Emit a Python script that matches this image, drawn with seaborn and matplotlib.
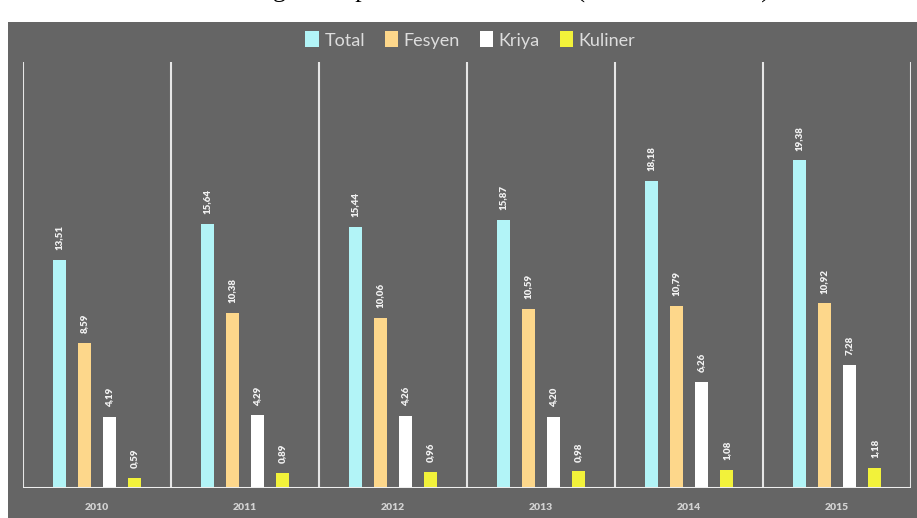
import matplotlib
matplotlib.use("Agg")
import matplotlib.pyplot as plt
import seaborn as sns
import pandas as pd
from matplotlib.patches import Rectangle, Patch

# ---- data ----
years = ["2010", "2011", "2012", "2013", "2014", "2015"]
series = ["Total", "Fesyen", "Kriya", "Kuliner"]
total = [13.51, 15.64, 15.44, 15.87, 18.18, 19.38]
fesyen = [8.59, 10.38, 10.06, 10.59, 10.79, 10.92]
kriya = [4.19, 4.29, 4.26, 4.20, 6.26, 7.28]
kuliner = [0.59, 0.89, 0.96, 0.98, 1.08, 1.18]
caption = "Perkembangan Ekspor Ekonomi Kreatif (Miliar US Dollar)"

colors = {"Total": "#b2f4f7", "Fesyen": "#fdd78b", "Kriya": "#ffffff", "Kuliner": "#f2f23a"}

rows = []
for name, vals in zip(series, [total, fesyen, kriya, kuliner]):
    for y, v in zip(years, vals):
        rows.append({"Tahun": y, "Sektor": name, "Nilai": v})
df = pd.DataFrame(rows)

sns.set_theme(style="white")
plt.rcParams["font.family"] = ["Lato", "DejaVu Sans"]

W, H = 917, 518
fig = plt.figure(figsize=(W / 100, H / 100), dpi=100, facecolor="white")

# dark panel behind the chart
fig.patches.append(Rectangle((8 / W, 0), 1, (H - 22) / H, transform=fig.transFigure,
                             facecolor="#656565", edgecolor="none", zorder=-10))

ax = fig.add_axes([23 / W, (H - 488) / H, (911 - 23) / W, (488 - 62) / H])
ax.set_facecolor("none")
ax.set_zorder(1)

sns.barplot(data=df, x="Tahun", y="Nilai", hue="Sektor", hue_order=series,
            palette=colors, saturation=1, width=0.68, gap=0.48, legend=False,
            edgecolor="none", linewidth=0, ax=ax)

for cont in ax.containers:
    labels = [f"{b.get_height():.2f}".replace(".", ",") for b in cont]
    ax.bar_label(cont, labels=labels, rotation=90, padding=7, fontsize=7,
                 fontweight="heavy", color="#f2f2f2")

ax.set_xlim(-0.5, 5.5)
ax.set_ylim(0, 25.2)
for s in ax.spines.values():
    s.set_visible(False)
ax.set_yticks([])
ax.set_xlabel("")
ax.set_ylabel("")
ax.tick_params(axis="x", length=0, pad=11, labelsize=7.5, labelcolor="#d2d2d2")
for t in ax.get_xticklabels():
    t.set_fontweight("heavy")

for i in range(7):
    ax.axvline(i - 0.5, color="#e6e6e6", lw=1.5, zorder=0.5)
ax.axhline(0, color="#eeeeee", lw=2.2, zorder=3)

handles = [Patch(facecolor=colors[s], edgecolor="none", label=s) for s in series]
fig.legend(handles=handles, loc="center", bbox_to_anchor=(0.513, 0.923), ncol=4,
           frameon=False, labelcolor="#dddddd", handlelength=0.75,
           handleheight=1.0, handletextpad=0.3, columnspacing=1.1,
           prop={"size": 13})

fig.text(0.505, 1.0 + 2 / H, caption, ha="center", va="baseline", fontsize=18.5,
         family="Liberation Serif", color="black")

fig.savefig("out.png", dpi=100, facecolor="white")
